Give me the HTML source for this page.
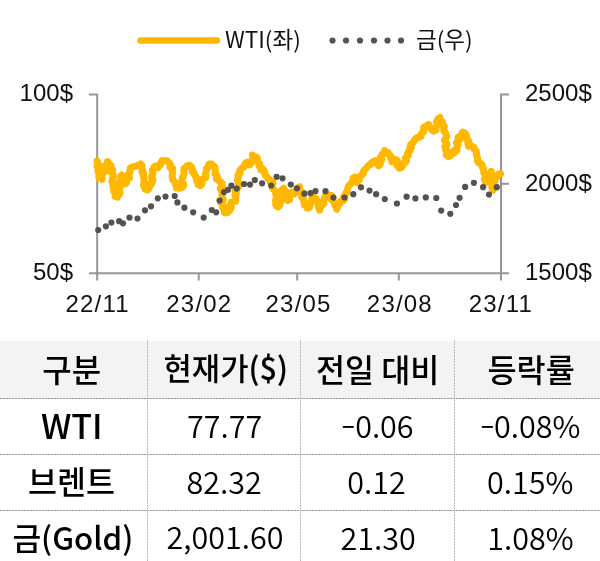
<!DOCTYPE html>
<html><head><meta charset="utf-8"><style>
html,body{margin:0;padding:0;background:#fff;}
body{width:600px;height:561px;overflow:hidden;position:relative;}
svg{position:absolute;left:0;top:0;}
.ax{font-family:"Liberation Sans","Noto Sans CJK KR",sans-serif;font-size:24px;fill:#111;}
.dt{letter-spacing:1.2px;}
.lg{font-family:"Noto Sans CJK KR",sans-serif;font-size:22.5px;fill:#111;}
.hdr{position:absolute;left:0;top:341px;width:600px;height:57px;background:#f3f3f3;}
.hl{position:absolute;left:0;width:600px;height:1px;background:repeating-linear-gradient(90deg,#a19d91 0 2px,#d8d5cf 2px 3px);}
.vl{position:absolute;top:340px;height:230px;width:1px;background:repeating-linear-gradient(180deg,#bcbcbc 0 2px,#e6e6e6 2px 3px);}
.t{position:absolute;white-space:nowrap;line-height:1;color:#000;}
.k{font-family:"Noto Sans CJK KR",sans-serif;font-weight:500;}
.n{font-family:"Noto Sans CJK KR",sans-serif;font-weight:350;}
.m{display:inline-block;transform:scaleX(.76);transform-origin:0 0;margin-right:-3.6px;}
</style></head><body>
<svg width="600" height="340" viewBox="0 0 600 340">
<g stroke="#969696" stroke-width="2" fill="none" stroke-linejoin="round">
<path d="M89,94.6H97.2V280.5"/>
<path d="M89,273.3H509"/>
<path d="M509,94.6H501V280.5"/>
<path d="M501,183.8H509"/>
<path d="M198.7,273.4V280.5M297.2,273.4V280.5M398.8,273.4V280.5"/>
</g>
<polyline points="97.0,161.0 97.7,162.7 98.4,164.5 97.1,166.5 99.1,168.1 98.0,170.0 98.1,171.6 98.8,173.2 99.9,174.6 98.8,176.4 99.0,178.0 101.1,177.4 102.0,179.4 102.2,177.7 101.5,175.8 102.0,174.1 103.4,172.7 105.0,171.3 103.3,169.2 104.8,167.8 104.7,165.9 106.5,164.9 108.1,163.7 107.5,161.6 108.9,163.5 110.6,165.0 111.1,166.6 109.7,168.5 112.7,169.7 110.5,171.7 112.4,173.0 113.1,174.6 113.4,176.2 112.5,178.0 113.2,179.7 111.9,181.5 113.9,183.1 112.9,184.9 112.9,186.6 113.8,188.3 113.6,190.0 113.8,191.7 115.6,193.0 115.9,194.6 115.0,196.5 117.5,197.2 117.8,195.1 119.5,194.0 120.2,192.3 119.5,190.5 119.3,188.7 120.3,187.0 120.0,185.2 119.7,183.5 121.3,181.8 120.5,180.0 121.5,178.5 120.6,176.5 121.7,175.0 122.4,177.3 123.5,179.4 124.0,180.9 123.7,182.8 125.3,183.9 126.7,182.7 126.2,180.6 127.5,179.4 129.4,178.0 127.3,175.6 128.6,174.0 130.1,172.5 129.8,170.5 130.3,168.1 132.4,167.0 135.0,166.5 136.8,165.7 138.6,165.0 140.6,163.9 142.1,165.6 141.9,167.3 141.8,168.9 142.7,170.4 142.0,172.1 143.9,173.4 143.1,175.2 143.9,176.7 143.8,178.5 144.0,180.3 144.6,182.0 143.6,183.9 143.5,185.8 145.1,187.4 145.2,189.2 147.5,190.0 148.9,188.8 148.5,186.3 150.6,185.6 151.5,184.0 151.6,182.3 152.9,180.9 152.7,179.1 151.3,177.2 151.9,175.6 153.0,174.0 152.8,172.3 152.2,170.2 154.0,169.1 153.9,167.2 155.5,166.0 157.5,165.9 158.2,167.8 157.9,165.5 160.7,164.6 160.8,162.5 162.1,160.6 164.4,160.7 166.4,160.4 168.0,161.6 169.6,163.2 170.6,165.2 170.0,167.2 172.7,168.4 172.1,170.5 172.4,172.3 172.6,174.1 172.0,176.1 172.5,177.8 172.8,179.6 174.2,181.2 175.4,182.7 175.6,184.5 176.3,186.2 176.5,188.0 179.5,188.3 182.1,187.4 183.4,185.9 183.9,184.2 181.7,182.2 181.9,180.6 182.3,178.9 182.5,177.2 183.5,175.7 184.0,174.0 183.9,172.3 183.9,170.4 183.9,168.6 185.7,167.5 186.6,166.0 189.3,165.2 190.9,166.2 191.9,167.8 192.5,169.7 192.2,171.9 194.2,173.2 194.4,174.9 195.6,176.2 196.4,177.6 196.5,179.5 196.8,181.3 199.0,182.7 198.2,184.8 200.4,185.6 202.0,183.8 202.1,181.6 201.7,179.4 204.4,178.5 205.9,177.3 206.2,175.6 205.4,173.8 206.2,172.3 206.5,170.6 206.2,168.8 208.2,167.7 208.4,166.0 209.2,163.9 211.5,164.0 213.5,166.0 215.1,167.4 215.0,169.0 215.4,170.6 215.2,172.3 215.0,174.0 216.8,175.3 217.4,176.9 216.5,179.0 218.4,179.2 219.0,181.0 220.8,182.0 222.1,183.5 221.5,185.2 222.6,186.8 220.2,188.6 221.1,190.2 222.6,191.7 222.4,193.3 221.8,195.0 222.4,196.6 222.5,198.2 223.3,199.8 221.3,201.6 221.0,203.2 222.7,204.7 222.7,206.4 222.8,208.0 224.5,209.1 225.0,210.6 224.5,212.5 227.0,213.0 228.0,211.6 229.5,211.0 229.2,209.1 231.2,207.7 229.6,205.5 231.0,204.0 231.4,201.9 233.5,202.0 235.6,201.3 235.5,199.0 235.8,197.2 234.9,195.2 236.4,193.5 235.1,191.5 236.8,189.8 237.0,188.0 238.7,186.4 238.6,184.5 238.3,182.6 237.3,180.6 237.9,178.8 238.5,177.0 237.9,175.0 240.0,173.7 239.7,171.8 240.0,170.0 242.0,168.0 243.9,167.0 244.5,165.0 245.4,163.2 247.0,162.0 248.9,163.0 249.5,165.0 250.9,163.6 251.9,162.1 252.0,160.3 252.4,158.6 252.9,156.9 252.5,155.0 253.9,156.6 256.0,157.0 257.4,158.5 257.1,160.6 258.2,162.3 259.7,163.8 259.0,166.0 261.3,167.4 261.0,170.0 263.0,169.0 264.3,170.8 265.0,172.8 265.0,175.0 267.0,177.0 268.1,178.9 270.0,180.0 270.4,182.1 272.5,182.0 273.1,183.6 272.0,185.5 272.3,187.2 272.8,188.7 274.5,190.0 275.1,191.7 275.8,193.3 276.0,195.0 276.3,196.7 276.5,198.5 275.4,200.3 276.0,202.0 275.6,204.1 276.4,205.7 278.0,207.0 280.0,205.0 280.1,203.3 280.8,201.7 281.4,200.1 279.5,198.2 281.4,196.7 282.3,195.1 282.1,193.4 282.2,191.7 281.6,190.0 283.6,188.3 284.2,190.0 285.6,191.5 284.3,193.8 285.7,195.3 286.9,196.9 286.3,199.2 287.8,200.6 289.8,199.4 288.8,197.1 289.4,195.4 291.6,194.3 291.0,192.1 291.9,193.7 293.7,194.2 294.4,192.3 296.4,192.0 296.5,189.7 297.6,187.9 299.6,186.7 299.4,189.0 300.6,190.7 302.3,192.1 303.6,193.5 301.9,195.5 301.7,197.2 302.9,198.6 304.1,200.1 303.7,201.8 305.2,203.2 304.4,205.0 306.8,205.6 307.1,208.1 309.5,207.5 309.8,205.0 310.8,203.5 311.0,201.8 312.7,200.6 311.9,198.5 313.7,197.3 313.2,195.3 313.4,197.6 316.1,198.4 316.4,200.6 317.6,202.0 318.1,203.6 318.7,205.2 318.3,207.1 319.8,208.5 319.6,210.3 320.3,208.4 320.4,206.3 322.3,205.0 324.0,203.6 323.0,201.4 323.8,199.8 324.7,198.2 325.0,196.4 327.0,197.0 328.2,195.3 331.4,195.3 332.3,197.1 331.5,199.5 333.3,200.9 334.0,202.8 334.6,204.4 335.3,206.0 337.4,207.0 336.7,209.2 337.6,207.3 338.1,205.2 340.0,203.9 340.5,201.2 343.2,200.6 344.7,199.0 343.6,196.6 345.1,195.0 345.8,193.2 347.2,191.7 347.4,189.7 348.0,187.8 348.7,185.8 350.3,184.5 351.4,182.8 352.4,181.5 353.9,180.4 353.1,177.9 355.0,177.1 355.5,179.1 357.1,180.6 357.1,182.8 357.2,181.1 359.3,180.3 359.3,178.5 360.1,177.1 360.7,175.6 362.3,174.6 363.5,173.5 363.3,171.3 364.3,170.0 365.7,169.0 366.6,167.6 367.8,166.4 369.0,165.2 370.6,164.4 371.4,162.8 373.1,161.6 375.0,160.7 376.1,162.4 377.4,164.0 378.5,165.7 380.3,164.5 380.1,162.6 381.1,161.2 381.8,159.6 380.4,157.3 381.8,156.0 382.1,154.3 384.5,153.2 384.8,150.5 385.4,152.6 388.2,152.4 388.8,154.5 390.6,155.8 390.6,158.0 392.4,159.4 392.0,161.7 393.1,159.9 395.2,159.3 397.0,160.2 396.1,162.5 396.5,164.1 396.9,165.7 399.6,166.3 399.3,168.2 401.0,167.6 402.3,166.4 403.3,165.0 402.9,163.0 405.6,162.2 406.5,160.7 405.1,158.2 406.5,156.9 408.4,155.6 407.5,153.3 408.4,151.6 410.4,150.4 409.7,148.1 411.4,147.2 410.5,144.8 412.1,143.8 413.1,142.5 414.4,140.6 415.6,138.7 417.0,137.6 418.7,137.5 421.2,136.2 421.0,134.3 421.9,132.9 423.7,131.8 423.7,130.0 423.7,127.3 426.2,126.2 428.7,124.4 429.4,126.1 430.5,127.6 431.2,129.3 433.7,131.2 436.2,130.0 435.0,128.1 436.2,126.7 437.4,125.2 437.3,123.5 436.3,121.7 439.3,120.6 438.1,118.7 440.0,117.5 439.6,119.3 439.5,121.0 442.5,121.8 441.8,123.7 443.1,125.1 444.4,126.5 443.7,128.7 443.9,131.2 445.6,133.0 446.3,134.7 446.8,136.3 446.0,138.1 444.6,139.8 444.9,141.5 446.6,143.1 447.0,144.8 444.8,146.6 445.9,148.2 445.5,149.9 447.4,151.6 447.6,153.3 446.3,155.0 448.6,156.4 450.3,155.9 451.4,154.5 452.7,153.6 454.3,153.0 453.9,150.8 457.0,150.2 456.5,148.0 457.3,146.3 458.1,144.7 456.4,142.5 458.0,141.0 459.7,139.7 458.1,137.2 460.0,136.0 461.8,135.3 461.8,133.3 462.8,132.1 464.9,133.2 466.4,135.0 466.5,136.7 465.7,138.5 468.0,139.8 468.7,141.3 467.8,143.2 469.0,144.6 468.5,146.4 470.3,145.2 472.1,146.4 474.0,147.2 474.2,149.2 476.2,150.7 476.5,152.7 476.4,155.0 477.3,157.0 477.7,159.0 477.5,161.2 478.9,163.1 481.2,163.7 482.3,165.3 482.2,167.2 483.6,168.7 483.6,170.6 483.7,172.5 485.4,173.9 485.1,175.7 486.1,177.2 484.3,179.2 485.1,180.8 485.6,182.4 485.5,180.4 487.1,179.3 489.1,178.3 488.7,176.2 488.5,174.0 491.2,173.3 491.2,171.2 491.6,172.9 491.6,174.6 490.7,176.4 492.2,178.0 492.0,179.7 491.7,181.5 491.0,183.3 493.1,184.8 491.8,186.7 492.3,188.4 493.1,190.0 493.9,188.3 493.6,186.4 493.8,184.6 493.3,182.7 495.0,181.2 494.6,179.2 495.1,177.6 497.5,176.8 497.5,175.0 498.8,173.7 500.6,173.7" fill="none" stroke="#FFB800" stroke-width="7.0" stroke-linejoin="round" stroke-linecap="round"/>
<g fill="#56524D">
<circle cx="98.2" cy="230" r="3.1"/>
<circle cx="105.9" cy="226.3" r="3.1"/>
<circle cx="111.4" cy="222.6" r="3.1"/>
<circle cx="119.1" cy="221.2" r="3.1"/>
<circle cx="123" cy="223.3" r="3.1"/>
<circle cx="129.5" cy="217.6" r="3.1"/>
<circle cx="137.5" cy="218.5" r="3.1"/>
<circle cx="145" cy="210.3" r="3.1"/>
<circle cx="151" cy="206.3" r="3.1"/>
<circle cx="157.8" cy="198.3" r="3.1"/>
<circle cx="165.5" cy="196.6" r="3.1"/>
<circle cx="174.7" cy="196" r="3.1"/>
<circle cx="177.4" cy="202.4" r="3.1"/>
<circle cx="184.4" cy="207.7" r="3.1"/>
<circle cx="193.2" cy="212.3" r="3.1"/>
<circle cx="203.7" cy="217.6" r="3.1"/>
<circle cx="211.8" cy="210" r="3.1"/>
<circle cx="216.2" cy="212.3" r="3.1"/>
<circle cx="219.6" cy="200.6" r="3.1"/>
<circle cx="223.9" cy="192.1" r="3.1"/>
<circle cx="228" cy="189.8" r="3.1"/>
<circle cx="231.4" cy="185.7" r="3.1"/>
<circle cx="236.7" cy="188.6" r="3.1"/>
<circle cx="244" cy="184" r="3.1"/>
<circle cx="250" cy="184.6" r="3.1"/>
<circle cx="254.8" cy="180.1" r="3.1"/>
<circle cx="262.1" cy="183.3" r="3.1"/>
<circle cx="271.2" cy="185.5" r="3.1"/>
<circle cx="276.6" cy="176.8" r="3.1"/>
<circle cx="282.5" cy="178.3" r="3.1"/>
<circle cx="290.8" cy="184.6" r="3.1"/>
<circle cx="296.9" cy="188.3" r="3.1"/>
<circle cx="304.4" cy="193.7" r="3.1"/>
<circle cx="310.5" cy="193.2" r="3.1"/>
<circle cx="315.5" cy="191" r="3.1"/>
<circle cx="325.5" cy="191.2" r="3.1"/>
<circle cx="333.5" cy="197.6" r="3.1"/>
<circle cx="344.5" cy="197.5" r="3.1"/>
<circle cx="353.3" cy="194.2" r="3.1"/>
<circle cx="361" cy="187.3" r="3.1"/>
<circle cx="369.5" cy="190.6" r="3.1"/>
<circle cx="376.1" cy="194.2" r="3.1"/>
<circle cx="384.8" cy="199.1" r="3.1"/>
<circle cx="396.9" cy="203.5" r="3.1"/>
<circle cx="406.6" cy="196.7" r="3.1"/>
<circle cx="415.4" cy="198.4" r="3.1"/>
<circle cx="425.8" cy="197.4" r="3.1"/>
<circle cx="436.3" cy="198" r="3.1"/>
<circle cx="441.2" cy="210.6" r="3.1"/>
<circle cx="450.3" cy="213.8" r="3.1"/>
<circle cx="456" cy="205" r="3.1"/>
<circle cx="459.6" cy="197.8" r="3.1"/>
<circle cx="465.1" cy="186.9" r="3.1"/>
<circle cx="473.9" cy="182.8" r="3.1"/>
<circle cx="483.1" cy="187.2" r="3.1"/>
<circle cx="489" cy="194.6" r="3.1"/>
<circle cx="496.8" cy="187.2" r="3.1"/>
</g>
<line x1="140.5" y1="40.5" x2="217" y2="40.5" stroke="#FFB800" stroke-width="6.5" stroke-linecap="round"/>
<g fill="#56524D">
<circle cx="332.5" cy="40.5" r="3.1"/><circle cx="346" cy="40.5" r="3.1"/><circle cx="360" cy="40.5" r="3.1"/><circle cx="374" cy="40.5" r="3.1"/><circle cx="387.5" cy="40.5" r="3.1"/><circle cx="401" cy="40.5" r="3.1"/>
</g>
<text class="lg" x="225" y="48">WTI(좌)</text>
<text class="lg" x="416" y="48">금(우)</text>
<text class="ax" x="73" y="100.7" text-anchor="end">100$</text>
<text class="ax" x="73" y="279.8" text-anchor="end">50$</text>
<text class="ax" x="525" y="100.8">2500$</text>
<text class="ax" x="525" y="190.8">2000$</text>
<text class="ax" x="525" y="280">1500$</text>
<text class="ax dt" x="97.6" y="311.5" text-anchor="middle">22/11</text>
<text class="ax dt" x="199.35" y="311.5" text-anchor="middle">23/02</text>
<text class="ax dt" x="298.6" y="311.5" text-anchor="middle">23/05</text>
<text class="ax dt" x="399.9" y="311.5" text-anchor="middle">23/08</text>
<text class="ax dt" x="500.9" y="311.5" text-anchor="middle">23/11</text>
</svg>
<div class="hdr"></div>
<div class="hl" style="top:398px"></div>
<div class="hl" style="top:454px"></div>
<div class="hl" style="top:510px"></div>
<div class="vl" style="left:147px"></div>
<div class="vl" style="left:300px"></div>
<div class="vl" style="left:454px"></div>

<div class="t k" style="left:42.3px;top:351.5px;font-size:32px">구분</div>
<div class="t k" style="left:163.5px;top:352.0px;font-size:30.8px">현재가<span style="-webkit-text-stroke:0.2px #000">($)</span></div>
<div class="t k" style="left:315.9px;top:353.1px;font-size:31.6px">전일 대비</div>
<div class="t k" style="left:487.5px;top:352.9px;font-size:31.6px">등락률</div>
<div class="t k" style="left:40.9px;top:408.4px;font-size:34px;-webkit-text-stroke:0">WTI</div>
<div class="t k" style="left:28.0px;top:464.9px;font-size:31.5px;-webkit-text-stroke:0">브렌트</div>
<div class="t k" style="left:12.4px;top:520.9px;font-size:31.2px;-webkit-text-stroke:0">금(Gold)</div>
<div class="t n" style="left:187.0px;top:409.9px;font-size:30.5px">77.77</div>
<div class="t n" style="left:186.5px;top:466.1px;font-size:30.5px">82.32</div>
<div class="t n" style="left:166.5px;top:521.1px;font-size:30.5px">2,001.60</div>
<div class="t n" style="left:342.0px;top:410.0px;font-size:30.5px"><span class="m">−</span>0.06</div>
<div class="t n" style="left:347.2px;top:465.9px;font-size:30.5px">0.12</div>
<div class="t n" style="left:340.6px;top:521.7px;font-size:30.5px">21.30</div>
<div class="t n" style="left:480.8px;top:410.0px;font-size:30.5px"><span class="m">−</span>0.08%</div>
<div class="t n" style="left:487.1px;top:465.8px;font-size:30.5px">0.15%</div>
<div class="t n" style="left:487.3px;top:521.7px;font-size:30.5px">1.08%</div>
</body></html>
